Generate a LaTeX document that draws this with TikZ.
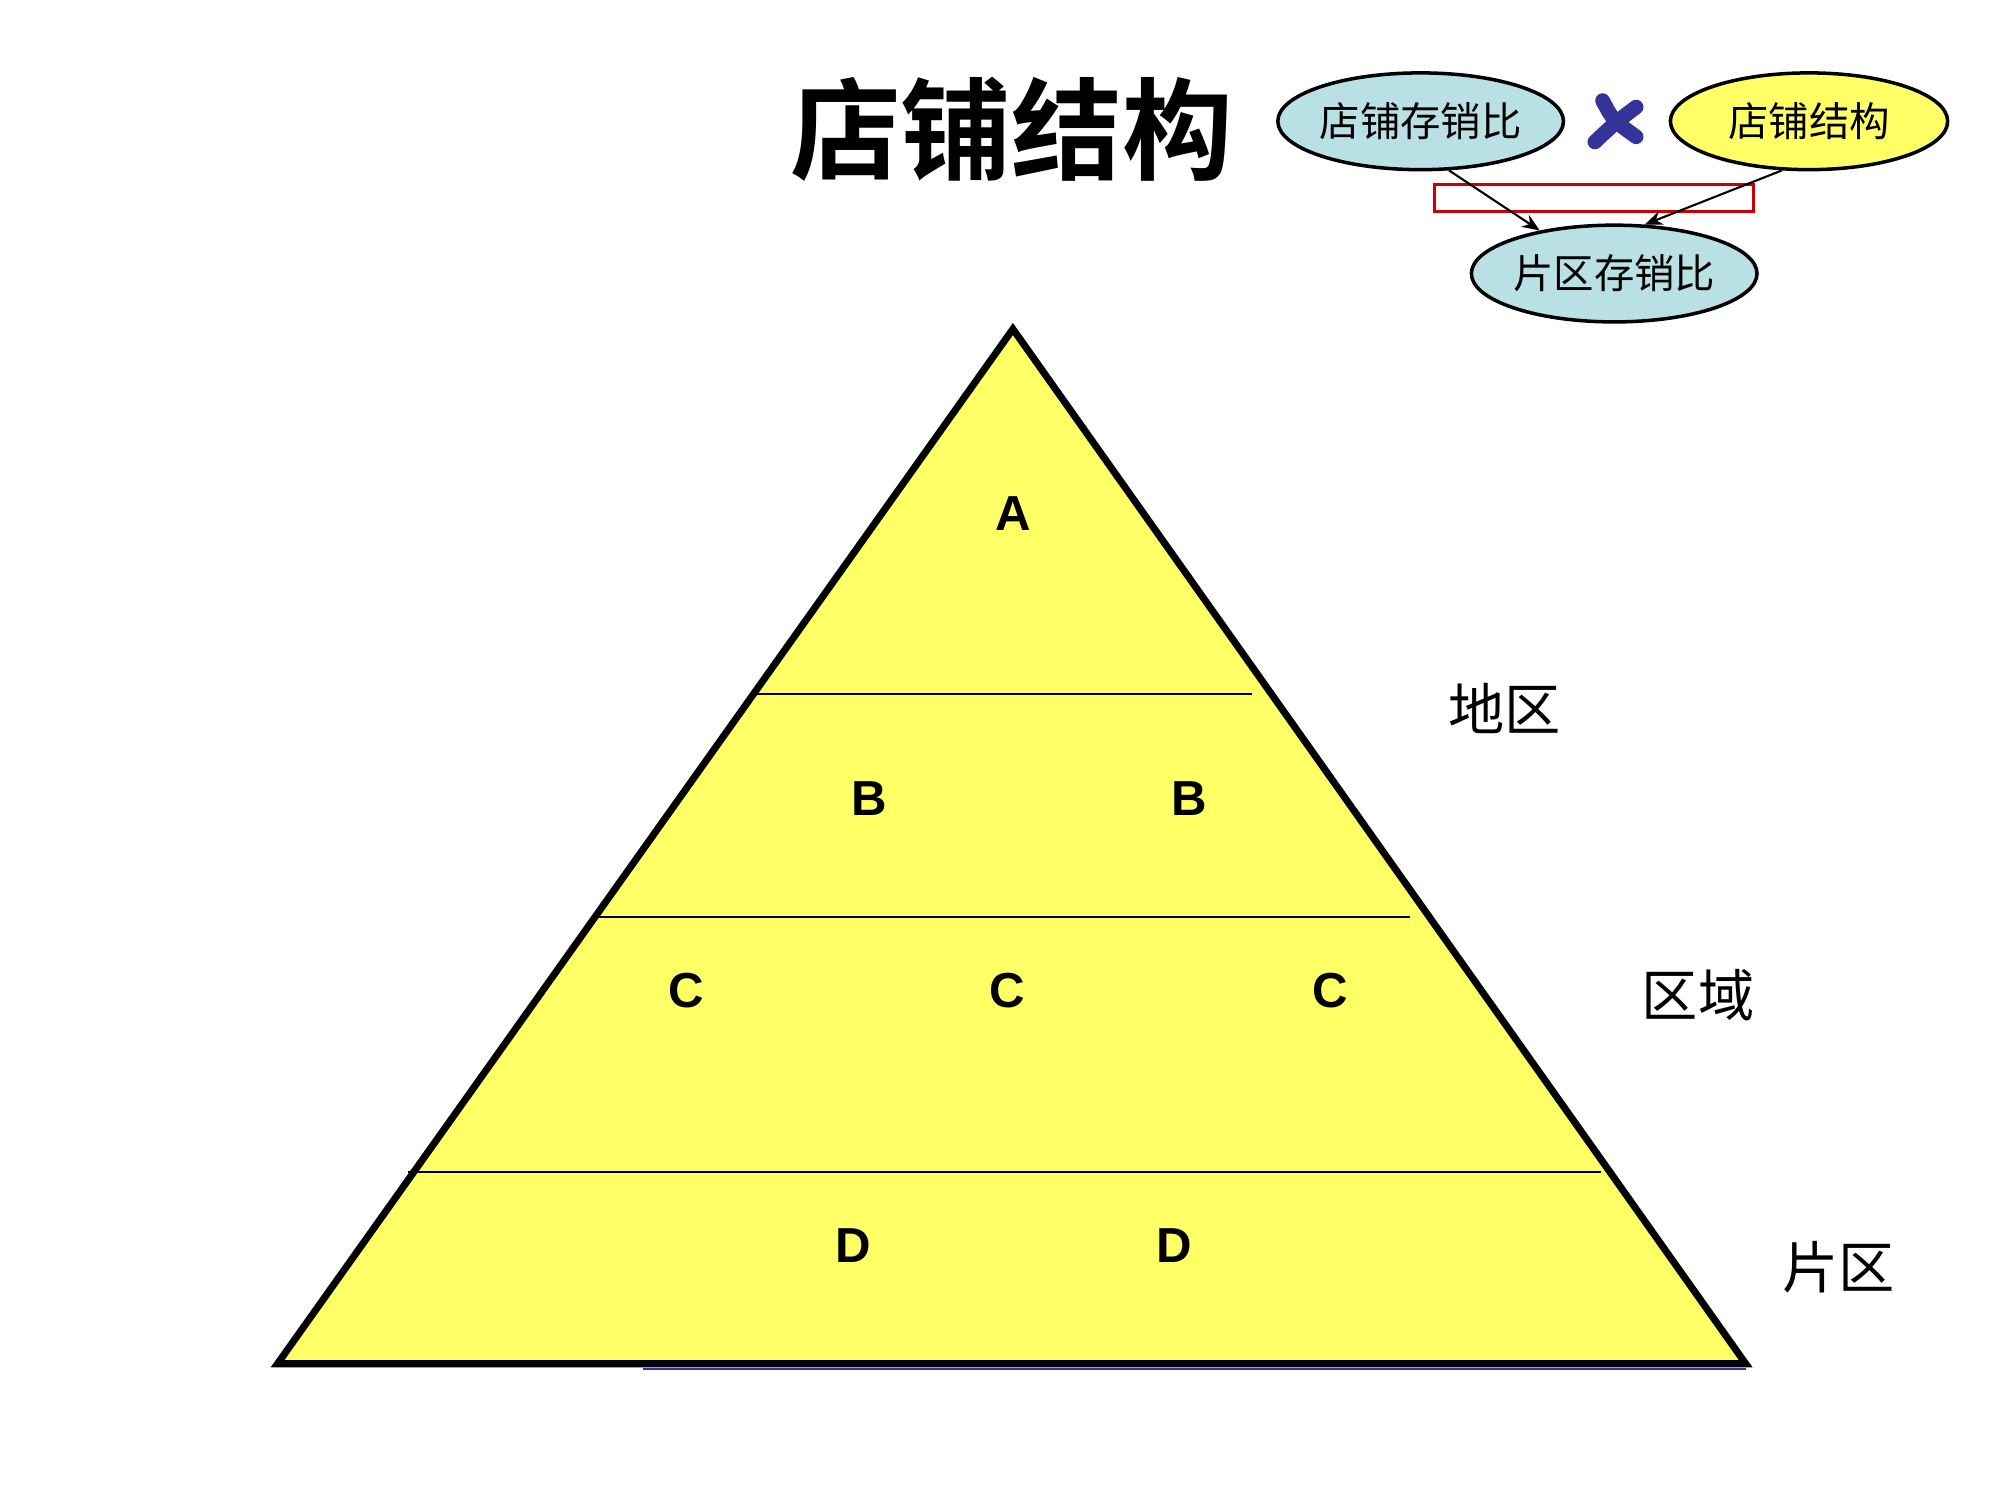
\documentclass[tikz,border=0pt]{standalone}
\usepackage{fontspec}
\setmainfont{Liberation Sans}
\newfontfamily\cjk{Noto Sans CJK SC}
\newfontfamily\cjkb{Noto Sans CJK SC Bold}
\usetikzlibrary{shapes.geometric,arrows.meta}
\definecolor{pyellow}{HTML}{FFFF66}
\definecolor{pblue}{HTML}{B9E0E4}
\definecolor{xblue}{HTML}{333399}
\definecolor{rboxc}{HTML}{CC0000}
\tikzset{
  oval/.style={ellipse, draw=black, line width=1pt, minimum width=2.774cm, minimum height=0.968cm, inner sep=0pt, font=\cjk\fontsize{11.5pt}{13pt}\selectfont},
  lvl/.style={font=\bfseries\fontsize{14pt}{16pt}\selectfont},
  side/.style={font=\cjk\fontsize{16pt}{18pt}\selectfont},
  divline/.style={line width=0.6pt, black},
  conn/.style={line width=0.6pt, -{Stealth[length=5pt,width=4pt]}}
}
\begin{document}
\begin{tikzpicture}[x=0.012903cm, y=-0.012903cm]
\useasboundingbox (0,0) rectangle (1550,1162.5);
% title
\node (title) at (784,100) {\cjkb\fontsize{31.5pt}{34pt}\selectfont 店铺结构};
% ellipses
\node[oval, fill=pblue] (s1) at (1101,94) {店铺存销比};
\node[oval, fill=pyellow] (s2) at (1402,94) {店铺结构};
\node[oval, fill=pblue] (s3) at (1251,212) {片区存销比};
% blue cross
\draw[xblue, line width=4.2pt, line cap=round] (1242,78) .. controls (1250,93) .. (1268,106);
\draw[xblue, line width=4.2pt, line cap=round] (1268,83) .. controls (1252,95) .. (1236,110);
% red box
\draw[rboxc, line width=0.8pt] (1112,143) rectangle (1359,164);
% connectors
\draw[conn] (s1.-60) -- (s3.150);
\draw[conn] (s2.-119) -- (s3.58);
% pyramid
\coordinate (apex) at (785,255);
\coordinate (bl) at (215,1057);
\coordinate (br) at (1353,1057);
\draw[xblue, line width=0.8pt] (498,1061) -- (1353,1061);
\draw[fill=pyellow, line width=2pt, line join=miter] (apex) -- (br) -- (bl) -- cycle;
\draw[black, line width=2pt] (bl) -- (br);
\coordinate (l1a) at (585,538); \coordinate (l1b) at (970,538);
\coordinate (l2a) at (463,711); \coordinate (l2b) at (1093,711);
\coordinate (l3a) at (316,908); \coordinate (l3b) at (1241,908);
\draw[divline] (l1a) -- (l1b);
\draw[divline] (l2a) -- (l2b);
\draw[divline] (l3a) -- (l3b);
% level letters
\node[lvl] (a1) at (785,398) {A};
\node[lvl] (b1) at (674,619) {B};
\node[lvl] (b2) at (922,619) {B};
\node[lvl] (c1) at (532,768) {C};
\node[lvl] (c2) at (781,768) {C};
\node[lvl] (c3) at (1031,768) {C};
\node[lvl] (d1) at (661,965) {D};
\node[lvl] (d2) at (910,965) {D};
% side labels
\node[side] (t1) at (1166,549) {地区};
\node[side] (t2) at (1316,771) {区域};
\node[side] (t3) at (1425,982) {片区};
\end{tikzpicture}
\end{document}
